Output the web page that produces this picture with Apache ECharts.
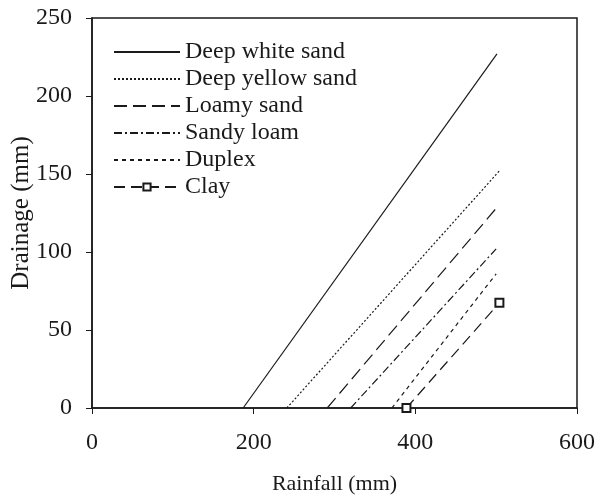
<!DOCTYPE html>
<html>
<head>
<meta charset="utf-8">
<title>Drainage vs Rainfall</title>
<script src="https://cdn.jsdelivr.net/npm/echarts@6/dist/echarts.min.js"></script>
<style>
	html, body { margin: 0; padding: 0; background: #fff; }
	#chart { width: 600px; height: 497px; }
</style>
</head>
<body>
	<div id="chart"></div>
<script type="text/javascript">
	// soil names (legend order)
	var soilNames = ['Deep white sand', 'Deep yellow sand', 'Loamy sand', 'Sandy loam', 'Duplex', 'Clay'];
	// rainfall (mm) where each curve starts and ends
	var rainStart = [187, 241, 291, 320, 371, 389];
	var rainEnd = [501, 504, 500, 500, 500, 504];
	// drainage (mm) at those rainfall values
	var drainStart = [0, 0, 0, 0, 0, 0];
	var drainEnd = [227, 152, 128, 102, 86, 67.5];
	// axis ticks
	var xTicks = [0, 200, 400, 600];
	var yTicks = [0, 50, 100, 150, 200, 250];

	var font = 'Liberation Serif';
	var ink = '#1a1a1a';
	// line styles per soil
	var dashes = ['solid', [2, 2], [13, 6], [8, 3, 2, 3], [4, 4], [11, 6]];

	var series = [];
	var legendData = [];
	for (var i = 0; i < soilNames.length; i++) {
		var isClay = soilNames[i] == 'Clay';
		series.push({
			name: soilNames[i],
			type: 'line',
			data: [[rainStart[i], drainStart[i]], [rainEnd[i], drainEnd[i]]],
			symbol: isClay ? 'emptyRect' : 'none',
			symbolSize: 8,
			showSymbol: isClay,
			itemStyle: { color: ink, borderColor: ink, borderWidth: 2 },
			lineStyle: { color: ink, width: 1.2, type: dashes[i] },
			animation: false
		});
		// hide the symbol in legend for plain lines
		legendData.push(isClay ? { name: soilNames[i] } :
			{ name: soilNames[i], itemStyle: { opacity: 0 } });
	}

	var chart = echarts.init(document.getElementById('chart'));
	chart.setOption({
		backgroundColor: '#fff',
		textStyle: { fontFamily: font, color: ink },
		grid: {
			left: 92, right: 23, top: 18, bottom: 89,
			outerBoundsMode: 'none',
			show: true, borderColor: ink, borderWidth: 1.5
		},
		legend: {
			orient: 'vertical',
			left: 108, top: 35,
			itemWidth: 66, itemHeight: 9, itemGap: 3,
			textStyle: { fontFamily: font, fontSize: 24, color: ink, lineHeight: 24 },
			data: legendData
		},
		xAxis: {
			type: 'value', min: xTicks[0], max: xTicks[xTicks.length - 1], interval: 200,
			name: 'Rainfall (mm)', nameLocation: 'middle', nameGap: 65,
			nameMoveOverlap: false,
			nameTextStyle: { fontFamily: font, fontSize: 22, color: ink },
			axisLine: { lineStyle: { color: ink, width: 1.5 } },
			axisTick: { show: true, length: 6, lineStyle: { color: ink } },
			axisLabel: { fontFamily: font, fontSize: 24, color: ink, margin: 23 },
			splitLine: { show: false }
		},
		yAxis: {
			type: 'value', min: yTicks[0], max: yTicks[yTicks.length - 1], interval: 50,
			name: 'Drainage (mm)', nameLocation: 'middle', nameGap: 58,
			nameMoveOverlap: false,
			nameTextStyle: { fontFamily: font, fontSize: 25, color: ink },
			axisLine: { show: true, lineStyle: { color: ink, width: 1.5 } },
			axisTick: { show: true, length: 6, lineStyle: { color: ink } },
			axisLabel: { fontFamily: font, fontSize: 24, color: ink, margin: 20 },
			splitLine: { show: false }
		},
		series: series
	});
</script>
</body>
</html>
